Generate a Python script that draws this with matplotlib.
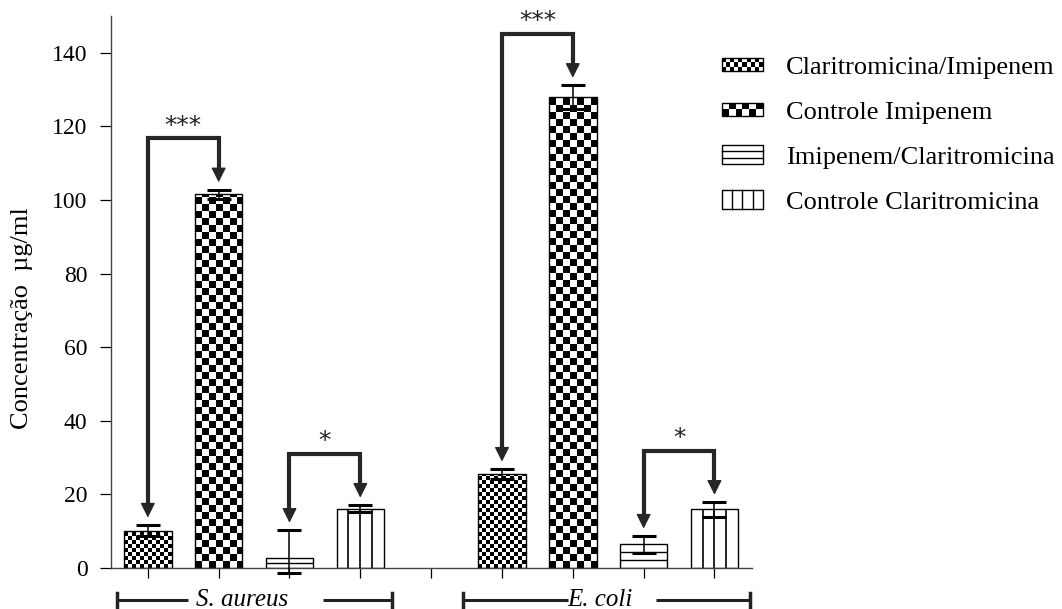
import numpy as np
import matplotlib
matplotlib.use('Agg')
import matplotlib.pyplot as plt
import matplotlib.transforms as mtransforms
from matplotlib.patches import Rectangle, Patch
from matplotlib.lines import Line2D
from matplotlib.legend_handler import HandlerBase

plt.rcParams['font.family'] = ['Liberation Serif', 'DejaVu Serif']

# Dados
grupos = ['S. aureus', 'E. coli']
series = ['Claritromicina/Imipenem', 'Controle Imipenem',
          'Imipenem/Claritromicina', 'Controle Claritromicina']
padroes = ['xadrez_fino', 'xadrez', 'horizontal', 'vertical']

s_aureus = [10.0, 101.5, 2.6, 16.0]
s_aureus_err_sup = [1.7, 1.3, 7.7, 1.1]
s_aureus_err_inf = [1.3, 1.3, 4.0, 0.8]

e_coli = [25.5, 128.0, 6.4, 16.0]
e_coli_err_sup = [1.4, 3.2, 2.3, 1.9]
e_coli_err_inf = [1.3, 3.2, 2.3, 2.1]

# comparacoes: (grupo, serie a, serie b, significancia)
comparacoes = [(0, 0, 1, '***'), (0, 2, 3, '*'),
               (1, 0, 1, '***'), (1, 2, 3, '*')]

yticks = [0, 20, 40, 60, 80, 100, 120, 140]

# Layout (em pixels da figura)
W, H, DPI = 1062, 609, 100
XLIM = (0.48, 9.53)
YLIM = (0, 150)
AX_L, AX_B, AX_W, AX_H = 111, 41, 641, 552
px_x = AX_W / (XLIM[1] - XLIM[0])
px_y = AX_H / (YLIM[1] - YLIM[0])
largura = 0.67
cor_seta = '#262626'

fig = plt.figure(figsize=(W / DPI, H / DPI), dpi=DPI)
ax = fig.add_axes([AX_L / W, AX_B / H, AX_W / W, AX_H / H])


def preencher(ax, barra, padrao):
    x0, w, h = barra.get_x(), barra.get_width(), barra.get_height()
    if padrao.startswith('xadrez'):
        cel = 4 if padrao == 'xadrez_fino' else 7
        nc = int(np.ceil(w * px_x / cel))
        nr = int(np.ceil(h * px_y / cel))
        img = np.add.outer(np.arange(nr), np.arange(nc)) % 2
        im = ax.imshow(img, cmap='gray', vmin=0, vmax=1, origin='lower',
                       interpolation='nearest', aspect='auto', zorder=1.5,
                       extent=(x0, x0 + nc * cel / px_x, 0, nr * cel / px_y))
        im.set_clip_path(barra)
    elif padrao == 'vertical':
        ax.vlines([x0 + k * w / 4 for k in (1, 2, 3)], 0, h,
                  color='black', lw=1.2, zorder=1.5)
    elif padrao == 'horizontal':
        n = max(2, int(round(h * px_y / 8)))
        ax.hlines([k * h / n for k in range(1, n)], x0, x0 + w,
                  color='black', lw=1, zorder=1.5)


medias = [s_aureus, e_coli]
err_sup = [s_aureus_err_sup, e_coli_err_sup]
err_inf = [s_aureus_err_inf, e_coli_err_inf]
posicoes = []

for gi in range(len(grupos)):
    pos = [gi * 5 + i + 1 for i in range(len(series))]
    posicoes.append(pos)
    barras = ax.bar(pos, medias[gi], largura, color='white',
                    edgecolor='none', zorder=1)
    for b, p in zip(barras, padroes):
        preencher(ax, b, p)
    ax.bar(pos, medias[gi], largura, fill=False, edgecolor='black',
           lw=1, zorder=2)
    eb = ax.errorbar(pos, medias[gi], yerr=[err_inf[gi], err_sup[gi]],
                     fmt='none', ecolor='black', elinewidth=1.1,
                     capsize=8.3, capthick=2.2, zorder=3)
    for art in eb.lines[1] + eb.lines[2]:
        art.set_clip_on(False)

# Colchetes com setas
cab = 13 / px_y
for gi, a, b, txt in comparacoes:
    xa, xb = posicoes[gi][a], posicoes[gi][b]
    ya = medias[gi][a] + err_sup[gi][a] + 2
    yb = medias[gi][b] + err_sup[gi][b] + 2
    topo = max(ya, yb) + 12
    ax.plot([xa, xa, xb, xb], [ya + cab * 0.8, topo, topo, yb + cab * 0.8],
            color=cor_seta, lw=3, solid_joinstyle='miter',
            solid_capstyle='butt', zorder=4, clip_on=False)
    for x, y in ((xa, ya), (xb, yb)):
        ax.annotate('', xy=(x, y), xytext=(x, y + cab * 1.3),
                    arrowprops=dict(arrowstyle='-|>,head_length=0.9,head_width=0.45',
                                    mutation_scale=10, lw=1, color=cor_seta,
                                    shrinkA=0, shrinkB=0),
                    zorder=4, annotation_clip=False)
    ax.text((xa + xb) / 2, topo + 1.5, txt, ha='center', va='baseline',
            fontsize=18, family='DejaVu Sans', color='#222222', clip_on=False)

# Rotulos dos grupos abaixo do eixo
trans = mtransforms.blended_transform_factory(ax.transData, ax.transAxes)
y_g = -32 / AX_H
meia_cap = 7 / AX_H
faixas = [(0.57, 1.57, 3.475, 4.45), (5.45, 6.93, 8.17, 9.50)]
centros = [2.33, 7.38]
for gi, nome in enumerate(grupos):
    x1, x2, x3, x4 = faixas[gi]
    for xs in ((x1, x2), (x3, x4)):
        ax.plot(xs, [y_g, y_g], transform=trans, color='#222222', lw=2.2,
                clip_on=False, solid_capstyle='butt')
    for x in (x1, x4):
        ax.plot([x, x], [y_g - meia_cap, y_g + meia_cap], transform=trans,
                color='#222222', lw=2.5, clip_on=False)
    ax.text(centros[gi], y_g, nome, transform=trans, ha='center',
            va='center', fontsize=18, style='italic')

# Eixos
ax.set_xlim(*XLIM)
ax.set_ylim(*YLIM)
ax.set_xticks(range(1, 10))
ax.set_xticklabels([])
ax.set_yticks(yticks)
ax.tick_params(axis='x', length=7.2, width=0.9, direction='out')
ax.tick_params(axis='y', length=8, width=0.9, direction='out', pad=9,
               labelsize=17)
for lado in ('top', 'right'):
    ax.spines[lado].set_visible(False)
for lado in ('left', 'bottom'):
    ax.spines[lado].set_color('#444444')
    ax.spines[lado].set_linewidth(1)

fig.text(22 / W, 1 - 318 / H, 'Concentração  µg/ml', rotation=90,
         ha='center', va='center', fontsize=19)


# Legenda com padroes
class HandlerPadrao(HandlerBase):
    def __init__(self, padrao):
        super().__init__()
        self.padrao = padrao

    def create_artists(self, legend, orig_handle, xdescent, ydescent,
                       width, height, fontsize, trans):
        h_px = 13 if self.padrao.startswith('xadrez') else 19
        h = h_px * 72 / DPI
        x0 = -xdescent
        y0 = -ydescent + height / 2 - h / 2
        arts = []
        if self.padrao.startswith('xadrez'):
            cel = (4 if self.padrao == 'xadrez_fino' else 7) * 72 / DPI
            nc = max(1, int(round(width / cel)))
            nr = max(1, int(round(h / cel)))
            cw, ch = width / nc, h / nr
            for i in range(nr):
                for j in range(nc):
                    if (i + j) % 2 == 0:
                        arts.append(Rectangle((x0 + j * cw, y0 + i * ch), cw, ch,
                                              fc='black', ec='none',
                                              transform=trans))
        elif self.padrao == 'horizontal':
            for k in (1, 2):
                yy = y0 + k * h / 3
                arts.append(Line2D([x0, x0 + width], [yy, yy], color='black',
                                   lw=1, transform=trans))
        elif self.padrao == 'vertical':
            for k in (1, 2, 3):
                xx = x0 + k * width / 4
                arts.append(Line2D([xx, xx], [y0, y0 + h], color='black',
                                   lw=1, transform=trans))
        arts.append(Rectangle((x0, y0), width, h, fill=False, ec='black',
                              lw=1, transform=trans))
        return arts


handles = [Patch(label=s) for s in series]
mapa = {hd: HandlerPadrao(p) for hd, p in zip(handles, padroes)}
ax.legend(handles=handles, labels=series, handler_map=mapa,
          loc='upper left', bbox_to_anchor=(722 / W, 1 - 56 / H),
          bbox_transform=fig.transFigure, frameon=False, fontsize=19,
          handlelength=1.55, handleheight=0.6, handletextpad=0.87,
          labelspacing=0.85, borderpad=0, borderaxespad=0)

fig.savefig('out.png', dpi=DPI)
